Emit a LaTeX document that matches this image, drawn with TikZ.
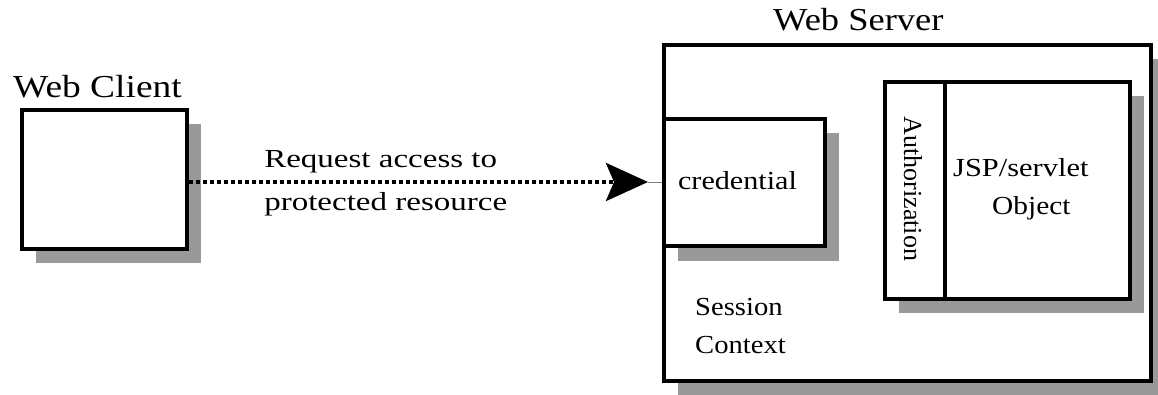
\documentclass[tikz,border=0pt]{standalone}
\usepackage{fontspec}
\setmainfont{Liberation Serif}
\usetikzlibrary{arrows.meta,shadows}
\definecolor{shadowgray}{HTML}{999999}
\begin{document}
\begin{tikzpicture}[x=1pt,y=-1pt,
  box/.style={draw=black, line width=4pt, fill=white, inner sep=0pt,
    drop shadow={shadow xshift=14pt, shadow yshift=-14pt, opacity=1, fill=shadowgray}},
  plainbox/.style={draw=black, line width=4pt, fill=white, inner sep=0pt},
  title/.style={font=\fontsize{32}{38}\selectfont, inner sep=0pt},
  lbl/.style={font=\fontsize{26}{31}\selectfont, inner sep=0pt},
  dotline/.style={line width=4pt, dash pattern=on 3.5pt off 3.5pt},
]
\useasboundingbox (0,0) rectangle (1158,395);
% Web server
\node[box, minimum width=486.5pt, minimum height=335pt] (server) at (907.25,213) {};
\node[box, minimum width=160.5pt, minimum height=127pt] (cred) at (744.25,183) {};
\node[box, minimum width=245pt, minimum height=216pt] (authjsp) at (1007,190.5) {};
\node[plainbox, minimum width=60pt, minimum height=216pt] (auth) at (914.5,190.5) {};
% Web client
\node[box, minimum width=165.5pt, minimum height=139pt] (client) at (104.25,179.5) {};
% connector
\coordinate (tip) at (648,182);
\draw[dotline, -{Stealth[length=42pt, width=38pt, inset=8pt]}] (client.east |- tip) -- (tip);
\draw[gray, line width=0.6pt] (tip) -- (cred.west |- tip);
% texts
\node[title, anchor=base west, xscale=1.17] (clientlbl) at (13,98) {Web Client};
\node[title, anchor=base west, xscale=1.14] (serverlbl) at (773,31) {Web Server};
\node[lbl, anchor=base west, xscale=1.27] (req1) at (264,168) {Request access to};
\node[lbl, anchor=base west, xscale=1.27] (req2) at (264,211) {protected resource};
\node[lbl, anchor=base, xscale=1.16] (credlbl) at (737.5,190) {credential};
\node[lbl, rotate=-90, anchor=center] (authlbl) at (913,189) {Authorization};
\node[lbl, anchor=base west, xscale=1.17] (jsp1) at (953,177) {JSP/servlet};
\node[lbl, anchor=base west, xscale=1.13] (jsp2) at (992,215) {Object};
\node[lbl, anchor=base west, xscale=1.1] (sess1) at (695,315) {Session};
\node[lbl, anchor=base west, xscale=1.1] (sess2) at (695,353) {Context};
\end{tikzpicture}
\end{document}
